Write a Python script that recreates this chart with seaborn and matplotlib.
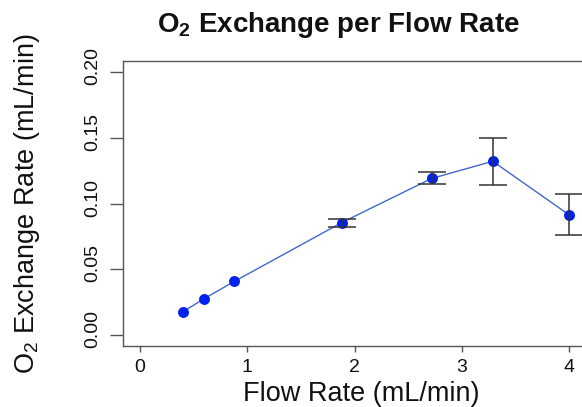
import matplotlib
matplotlib.use("Agg")
import matplotlib.pyplot as plt
import matplotlib.transforms as mtransforms
import seaborn as sns
import pandas as pd
import numpy as np

# ---- data ----
flow_rate = [0.40, 0.60, 0.88, 1.88, 2.72, 3.29, 4.00]
o2_exchange = [0.018, 0.028, 0.041, 0.0855, 0.119, 0.132, 0.0915]
o2_error = [0.0, 0.0, 0.0, 0.003, 0.0045, 0.018, 0.0155]
x_ticks = [0, 1, 2, 3, 4]
y_ticks = [0.00, 0.05, 0.10, 0.15, 0.20]
y_tick_labels = ["0.00", "0.05", "0.10", "0.15", "0.20"]

title = r"O$_\mathbf{2}$ Exchange per Flow Rate"
x_label = "Flow Rate (mL/min)"
y_label = r"O$_2$ Exchange Rate (mL/min)"

df = pd.DataFrame({"flow": flow_rate, "o2": o2_exchange, "err": o2_error})

sns.set_theme(style="white")
plt.rcParams["font.family"] = ["Liberation Sans", "DejaVu Sans"]
plt.rcParams["mathtext.fontset"] = "custom"
plt.rcParams["mathtext.rm"] = "Liberation Sans"
plt.rcParams["mathtext.it"] = "Liberation Sans:italic"
plt.rcParams["mathtext.bf"] = "Liberation Sans:bold"

W, H = 582, 407
fig = plt.figure(figsize=(W / 100, H / 100), dpi=100)
fig.patch.set_facecolor("white")
ax = fig.add_axes([123 / W, (H - 346) / H, (586 - 123) / W, (346 - 61) / H])

sns.lineplot(data=df, x="flow", y="o2", color="#4466cc", linewidth=1.0,
             ax=ax, sort=False, estimator=None, zorder=2)
sns.scatterplot(data=df, x="flow", y="o2", color="#0022ee", s=62,
                linewidth=0, ax=ax, zorder=3)
mask = df["err"] > 0
ax.errorbar(df.loc[mask, "flow"], df.loc[mask, "o2"], yerr=df.loc[mask, "err"],
            fmt="none", ecolor="#333333", elinewidth=1.1, capsize=10,
            capthick=1.1, zorder=4)

ax.set_xlim(-0.16, 4.16)
ax.set_ylim(-0.008, 0.208)
ax.set_xticks(x_ticks)
ax.set_yticks(y_ticks)
ax.set_yticklabels(y_tick_labels)
ax.set_xlabel("")
ax.set_ylabel("")

for s in ax.spines.values():
    s.set_color("#555555")
    s.set_linewidth(1.0)

ax.tick_params(axis="x", direction="out", length=4.3, width=1.0, color="#555555",
               labelsize=14, pad=5, bottom=True, labelcolor="#111111")
ax.tick_params(axis="y", direction="out", length=9.5, width=1.0, color="#555555",
               labelsize=14, pad=6, left=True, labelrotation=90, labelcolor="#111111")
for lab in ax.get_yticklabels():
    lab.set_va("center")
    lab.set_transform(lab.get_transform() +
                      mtransforms.ScaledTranslation(0, 6 / 100, fig.dpi_scale_trans))

fig.text(338 / W, (H - 32) / H, title, ha="center", va="baseline",
         fontsize=20, fontweight="bold", color="#111111")
fig.text(361.7 / W, (H - 401) / H, x_label, ha="center", va="baseline",
         fontsize=19.5, color="#111111")
fig.text(27 / W, (H - 204) / H, y_label, ha="center", va="center",
         rotation=90, fontsize=19.5, color="#111111")

fig.savefig("out.png", dpi=100)
